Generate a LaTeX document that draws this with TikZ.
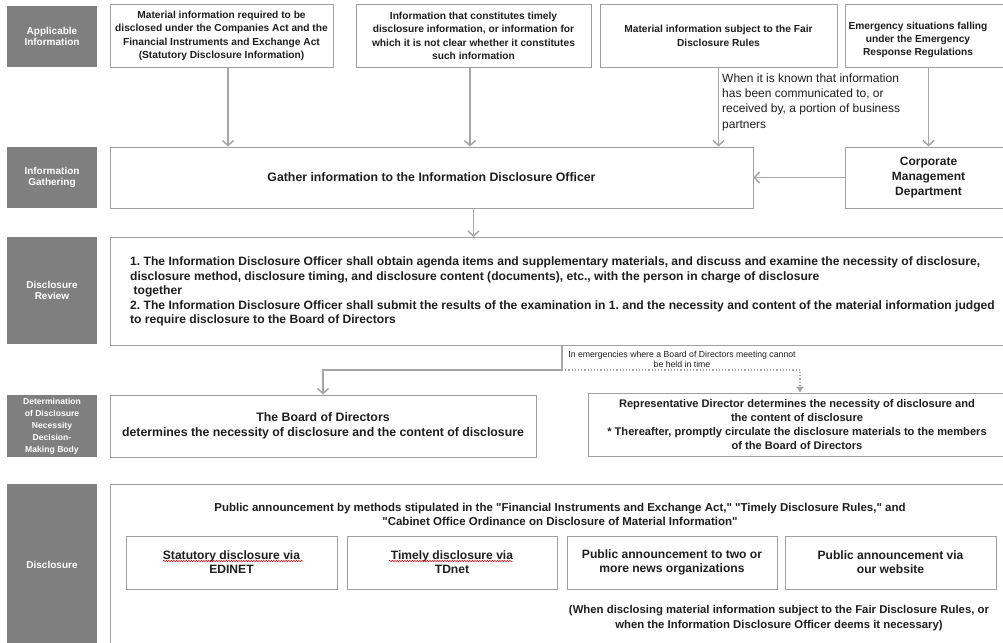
\documentclass[tikz,border=0pt]{standalone}
\usepackage{fontspec}
\setmainfont{Liberation Sans}[Ligatures=TeXOff]
\usetikzlibrary{arrows.meta,decorations.pathmorphing}
\definecolor{labelgray}{HTML}{7F7F7F}
\definecolor{boxline}{HTML}{A0A0A0}
\definecolor{arrowgray}{HTML}{A6A6A6}
\definecolor{textdark}{HTML}{1E1E1E}
\newcommand{\fs}[2]{\fontsize{#1}{#2}\selectfont}
\frenchspacing
\begin{document}
\begin{tikzpicture}[x=1pt,y=-1pt,
  lab/.style={fill=labelgray, text=white, font=\bfseries\fs{10}{11.5}, align=center, minimum width=90pt, inner sep=1pt},
  box/.style={draw=boxline, line width=1pt, text=textdark, font=\bfseries\fs{12.3}{15}, align=center, inner sep=2pt},
  srcbox/.style={box, minimum height=62pt, font=\bfseries\fs{10.2}{13.3}},
  subbox/.style={box, minimum width=211pt, minimum height=53pt, font=\bfseries\fs{12.1}{14}},
  plain/.style={text=textdark, inner sep=0pt},
  flow/.style={draw=arrowgray, line width=1.5pt, -{Straight Barb[length=5pt,width=11pt]}},
  dotflow/.style={draw=arrowgray, line width=1.2pt, dotted, -{Triangle[length=6pt,width=7pt]}},
  wavy/.style={draw=red!80!black, line width=0.5pt, decorate, decoration={snake, amplitude=0.7pt, segment length=2.5pt}}]
\useasboundingbox (0,0) rectangle (1003,642);
\clip (0,0) rectangle (1003,642);
\node[lab, minimum height=61pt] (labA) at (52,36.5) {Applicable\\Information};
\node[lab, minimum height=61pt] (labG) at (52,177.5) {Information\\Gathering};
\node[lab, minimum height=107pt] (labR) at (52,290.5) {Disclosure\\Review};
\node[lab, minimum height=62pt, font=\bfseries\fs{8.6}{12}] (labD) at (52,426) {Determination\\of Disclosure\\Necessity\\Decision-\\Making Body};
\node[lab, minimum height=161pt] (labP) at (52,564.5) {Disclosure};
\node[srcbox, minimum width=223pt] (srcA) at (221.5,36) {Material information required to be\\disclosed under the Companies Act and the\\Financial Instruments and Exchange Act\\(Statutory Disclosure Information)};
\node[srcbox, minimum width=235pt] (srcB) at (473.5,36) {Information that constitutes timely\\disclosure information, or information for\\which it is not clear whether it constitutes\\such information};
\node[srcbox, minimum width=237pt] (srcC) at (718.5,36) {Material information subject to the Fair\\Disclosure Rules};
\node[srcbox, minimum width=170pt] (srcD) at (930,36) {};
\node[plain, font=\bfseries\fs{10.2}{13.3}, align=center] (srcDtext) at (918,40) {Emergency situations falling\\under the Emergency\\Response Regulations};
\node[plain, font=\fs{12}{15.3}, align=left, anchor=west] (fairnote) at (722,102) {When it is known that information\\has been communicated to, or\\received by, a portion of business\\partners};
\node[box, minimum width=643pt, minimum height=61pt] (gather) at (431.5,177.5) {Gather information to the Information Disclosure Officer};
\node[box, minimum width=167pt, minimum height=61pt, font=\bfseries\fs{12}{15}] (corp) at (928.5,177.5) {Corporate\\Management\\Department};
\node[box, minimum width=900pt, minimum height=108pt, anchor=north west] (review) at (110,237) {};
\node[plain, font=\bfseries\fs{12.1}{14.5}, align=left, anchor=west] (reviewtext) at (130,291.5) {1. The Information Disclosure Officer shall obtain agenda items and supplementary materials, and discuss and examine the necessity of disclosure,\\disclosure method, disclosure timing, and disclosure content (documents), etc., with the person in charge of disclosure\\\hspace*{0.28em}together\\2. The Information Disclosure Officer shall submit the results of the examination in 1. and the necessity and content of the material information judged\\to require disclosure to the Board of Directors};
\coordinate (split) at (562,370);
\node[plain, font=\fs{8.7}{10}, align=center] (emerg) at (682,359) {In emergencies where a Board of Directors meeting cannot\\be held in time};
\node[box, minimum width=426pt, minimum height=62pt] (board) at (323,426) {The Board of Directors\\determines the necessity of disclosure and the content of disclosure};
\node[box, minimum width=418pt, minimum height=63pt, font=\bfseries\fs{11.1}{14}] (rep) at (797,424.5) {Representative Director determines the necessity of disclosure and\\the content of disclosure\\* Thereafter, promptly circulate the disclosure materials to the members\\of the Board of Directors};
\node[box, minimum width=900pt, minimum height=170pt, anchor=north west] (pub) at (110,484) {};
\node[plain, font=\bfseries\fs{11.5}{14}, align=center] (pubhead) at (560,514) {Public announcement by methods stipulated in the "Financial Instruments and Exchange Act," "Timely Disclosure Rules," and\\"Cabinet Office Ordinance on Disclosure of Material Information"};
\node[subbox] (edinet) at (231.5,562.5) {Statutory disclosure via\\EDINET};
\node[subbox, minimum width=210pt] (tdnet) at (452,562.5) {Timely disclosure via\\TDnet};
\node[subbox, minimum width=210pt] (news) at (672,562.5) {Public announcement to two or\\more news organizations};
\node[subbox] (web) at (890.5,562.5) {Public announcement via\\our website};
\node[plain, font=\bfseries\fs{11.35}{15}, align=center] (pubnote) at (779,618.5) {(When disclosing material information subject to the Fair Disclosure Rules, or\\when the Information Disclosure Officer deems it necessary)};
\draw[wavy] (163,561) -- (303,561);
\draw[wavy] (389,561) -- (513,561);
\draw[flow] ([xshift=6.5pt]srcA.south) -- ([xshift=6.5pt]srcA.south |- gather.north);
\draw[flow] ([xshift=-3.5pt]srcB.south) -- ([xshift=-3.5pt]srcB.south |- gather.north);
\draw[flow] (srcC.south) -- (srcC.south |- gather.north);
\draw[flow] (srcD.south -| corp) -- (corp.north);
\draw[flow] (corp.west) -- (corp.west -| gather.east);
\draw[flow] (gather.south -| srcB) -- (review.north -| srcB);
\draw[flow] (split |- review.south) -- (split) -| (board.north);
\draw[dotflow] (split) -| ([xshift=3pt]rep.north);
\end{tikzpicture}
\end{document}
